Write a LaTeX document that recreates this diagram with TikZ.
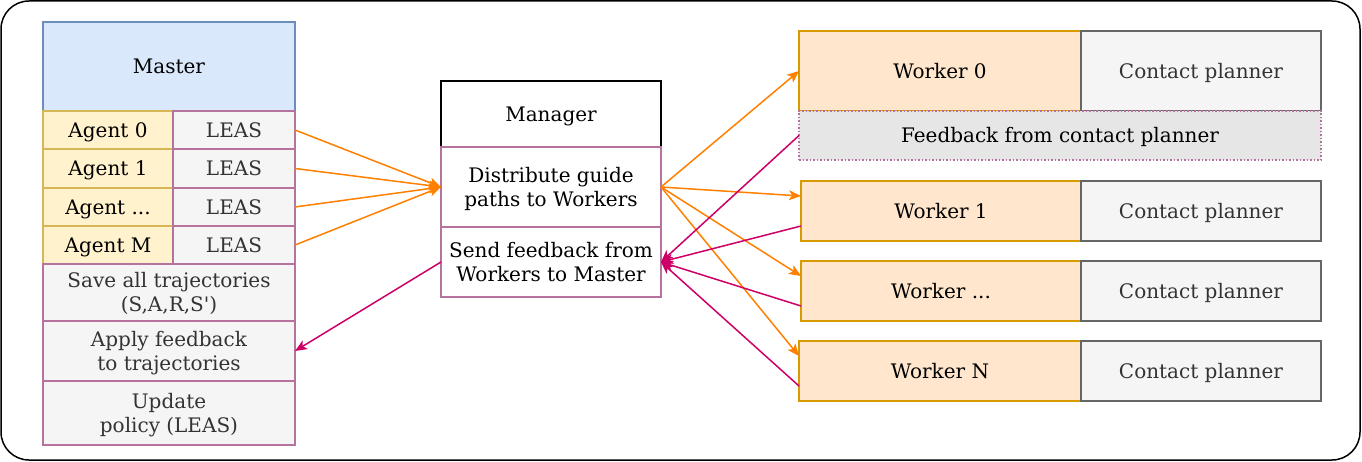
\documentclass[tikz,border=0pt]{standalone}
\usepackage{fontspec}
\setmainfont{DejaVu Serif}[Ligatures=TeXOff]
\usetikzlibrary{arrows.meta,calc}
\definecolor{blueF}{HTML}{DAE8FC}
\definecolor{blueD}{HTML}{6C8EBF}
\definecolor{yelF}{HTML}{FFF2CC}
\definecolor{yelD}{HTML}{D6B656}
\definecolor{greyF}{HTML}{F5F5F5}
\definecolor{purD}{HTML}{B5739D}
\definecolor{txtG}{HTML}{333333}
\definecolor{orF}{HTML}{FFE6CC}
\definecolor{orD}{HTML}{D79B00}
\definecolor{greyD}{HTML}{666666}
\definecolor{fbF}{HTML}{E6E6E6}
\definecolor{arrO}{HTML}{FF8000}
\definecolor{arrM}{HTML}{CC0066}
\newcommand\mystrut{\vrule width 0pt height 0.95em depth 0.22em\relax}
\tikzset{
  cell/.style={draw, line width=1.5pt, inner sep=1pt, outer sep=0pt, align=center, font=\fontsize{20}{24}\selectfont},
  master/.style={cell, fill=blueF, draw=blueD},
  agent/.style={cell, fill=yelF, draw=yelD},
  leas/.style={cell, fill=greyF, draw=purD, text=txtG},
  mgr/.style={cell, fill=white, draw=black, line width=1.8pt},
  mstep/.style={cell, fill=white, draw=purD},
  worker/.style={cell, fill=orF, draw=orD},
  planner/.style={cell, fill=greyF, draw=greyD, text=txtG},
  fb/.style={cell, fill=fbF, draw=purD, dotted},
  oarr/.style={draw=arrO, line width=1.5pt, -{Stealth[length=12pt,width=10pt,inset=3pt]}},
  marr/.style={draw=arrM, line width=1.5pt, -{Stealth[length=12pt,width=10pt,inset=3pt]}},
}
\begin{document}
\begin{tikzpicture}[x=1pt,y=-1pt]
\useasboundingbox (0,0) rectangle (1362,462);
\node[draw=black, line width=1.5pt, rounded corners=28pt, minimum width=1359pt, minimum height=459pt, inner sep=0pt] (outer) at (680.5,230.5) {};
% Master column
\node[master, minimum width=252pt, minimum height=89pt] (master) at (169,66.5) {\mystrut Master};
\node[agent, minimum width=130pt, minimum height=38pt] (a0) at (108,130) {\mystrut Agent 0};
\node[agent, minimum width=130pt, minimum height=39pt] (a1) at (108,168.5) {\mystrut Agent 1};
\node[agent, minimum width=130pt, minimum height=38pt] (a2) at (108,207) {\mystrut Agent ...};
\node[agent, minimum width=130pt, minimum height=38pt] (a3) at (108,245) {\mystrut Agent M};
\node[leas, minimum width=122pt, minimum height=38pt] (l0) at (234,130) {\mystrut LEAS};
\node[leas, minimum width=122pt, minimum height=39pt] (l1) at (234,168.5) {\mystrut LEAS};
\node[leas, minimum width=122pt, minimum height=38pt] (l2) at (234,207) {\mystrut LEAS};
\node[leas, minimum width=122pt, minimum height=38pt] (l3) at (234,245) {\mystrut LEAS};
\node[leas, minimum width=252pt, minimum height=57pt] (save) at (169,292.5) {\mystrut Save all trajectories\\\mystrut (S,A,R,S')};
\node[leas, minimum width=252pt, minimum height=60pt] (apply) at (169,351) {\mystrut Apply feedback\\\mystrut to trajectories};
\node[leas, minimum width=252pt, minimum height=64pt] (update) at (169,413) {\mystrut Update\\\mystrut policy (LEAS)};
% Manager column
\node[mgr, minimum width=220pt, minimum height=66pt] (mgr) at (551,114) {\mystrut Manager};
\node[mstep, minimum width=220pt, minimum height=80pt] (dist) at (551,187) {\mystrut Distribute guide\\\mystrut paths to Workers};
\node[mstep, minimum width=220pt, minimum height=70pt] (send) at (551,262) {\mystrut Send feedback from\\\mystrut Workers to Master};
% Workers
\node[worker, minimum width=282pt, minimum height=80pt] (w0) at (940,71) {\mystrut Worker 0};
\node[planner, minimum width=240pt, minimum height=80pt] (c0) at (1201,71) {\mystrut Contact planner};
\node[fb, minimum width=522pt, minimum height=49pt] (fb) at (1060,135.5) {\mystrut Feedback from contact planner};
\node[worker, minimum width=280pt, minimum height=60pt] (w1) at (941,211) {\mystrut Worker 1};
\node[planner, minimum width=240pt, minimum height=60pt] (c1) at (1201,211) {\mystrut Contact planner};
\node[worker, minimum width=280pt, minimum height=60pt] (w2) at (941,291) {\mystrut Worker ...};
\node[planner, minimum width=240pt, minimum height=60pt] (c2) at (1201,291) {\mystrut Contact planner};
\node[worker, minimum width=282pt, minimum height=60pt] (w3) at (940,371) {\mystrut Worker N};
\node[planner, minimum width=240pt, minimum height=60pt] (c3) at (1201,371) {\mystrut Contact planner};
% orange arrows
\draw[oarr] (l0.east) -- (dist.west);
\draw[oarr] (l1.east) -- (dist.west);
\draw[oarr] (l2.east) -- (dist.west);
\draw[oarr] (l3.east) -- (dist.west);
\draw[oarr] (dist.east) -- (w0.west);
\draw[oarr] (dist.east) -- ($(w1.north west)!0.25!(w1.south west)$);
\draw[oarr] (dist.east) -- ($(w2.north west)!0.25!(w2.south west)$);
\draw[oarr] (dist.east) -- ($(w3.north west)!0.25!(w3.south west)$);
% magenta arrows
\draw[marr] (fb.west) -- (send.east);
\draw[marr] ($(w1.north west)!0.75!(w1.south west)$) -- (send.east);
\draw[marr] ($(w2.north west)!0.75!(w2.south west)$) -- (send.east);
\draw[marr] ($(w3.north west)!0.75!(w3.south west)$) -- (send.east);
\draw[marr] (send.west) -- (apply.east);
\end{tikzpicture}
\end{document}
